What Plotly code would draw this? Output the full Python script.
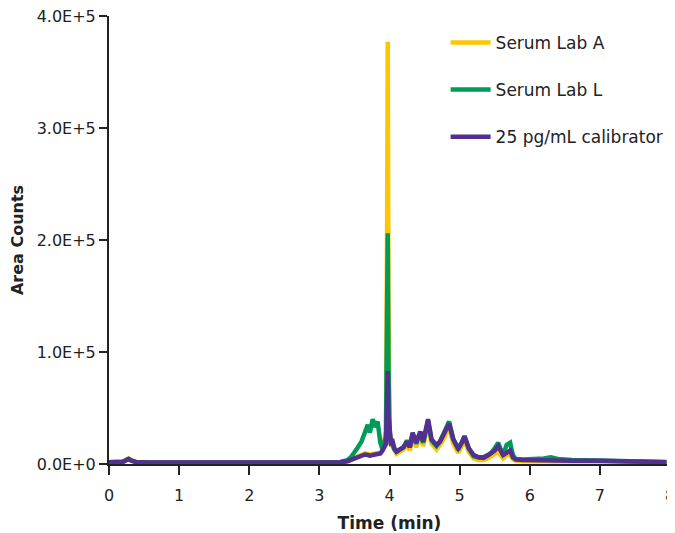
import plotly.graph_objects as go

# Retention time (min)
time_min = [0, 0.1, 0.2, 0.25, 0.28, 0.32, 0.4, 0.6, 1.0, 1.5, 2.0, 2.5, 3.0, 3.3, 3.4,
            3.45, 3.5, 3.55, 3.6, 3.65, 3.69, 3.72, 3.76, 3.79, 3.83, 3.87, 3.90, 3.95,
            3.965, 3.975, 3.985, 4.0, 4.02, 4.045, 4.07, 4.10, 4.15, 4.20, 4.25, 4.29,
            4.33, 4.38, 4.41, 4.44, 4.48, 4.52, 4.55, 4.60, 4.67, 4.72, 4.77, 4.81,
            4.85, 4.91, 4.98, 5.03, 5.07, 5.13, 5.20, 5.27, 5.34, 5.40, 5.45, 5.50,
            5.55, 5.58, 5.62, 5.67, 5.72, 5.76, 5.80, 5.9, 6.0, 6.2, 6.3, 6.4, 6.6,
            7.0, 7.5, 7.95]

# Area counts (thousands)
serum_lab_a_k = [1.5, 1.5, 2.0, 4.0, 5.0, 3.5, 1.5, 1.3, 1.2, 1.2, 1.1, 1.2, 1.3, 1.5, 2.5,
                 3.5, 5.0, 7.0, 8.5, 9.5, 9.0, 8.5, 9.0, 9.5, 10.0, 10.0, 12.0, 30.0,
                 200, 377, 150, 30, 18, 16, 12, 9, 11, 13, 17, 12,
                 24, 15, 20, 25, 16, 27, 35, 18, 13, 17, 22, 28,
                 33, 18, 10, 16, 21, 11, 5, 3.5, 3.5, 5, 7, 9,
                 11, 8, 5, 8, 8, 4, 3, 2.5, 2.5, 2.5, 3, 2.5, 2.5,
                 2.2, 2.0, 1.5]
serum_lab_l_k = [1.5, 1.6, 2.0, 3.5, 4.5, 3.0, 1.5, 1.4, 1.3, 1.2, 1.2, 1.3, 1.4, 1.8, 3.5,
                 6.0, 10.0, 15.0, 20.0, 30.0, 35.0, 28.0, 40.0, 33.0, 38.0, 19.0, 13.0, 25.0,
                 120, 206, 90, 30, 19, 17, 13, 11, 13, 15, 21, 15,
                 27, 18, 24, 27, 19, 33, 38, 21, 16, 20, 27, 33,
                 38, 22, 13, 19, 24, 14, 7, 6, 6, 8, 10, 14,
                 19, 14, 8, 17, 19, 8, 4.5, 4, 4, 5, 6, 4.5, 3.5,
                 3.0, 2.5, 1.8]
calibrator_k = [1.5, 1.5, 2.0, 3.5, 4.5, 3.0, 1.5, 1.3, 1.2, 1.2, 1.1, 1.2, 1.3, 1.5, 2.5,
                3.5, 5.0, 6.5, 7.5, 8.5, 8.0, 7.5, 8.0, 8.5, 9.0, 9.5, 12.0, 18.0,
                55, 83, 45, 25, 19, 20, 14, 11, 13, 15, 20, 15,
                28, 19, 24, 29, 20, 32, 40, 22, 17, 20, 26, 31,
                36, 22, 14, 19, 25, 14, 8, 6, 5.5, 7.5, 10, 12,
                16, 12, 8, 10, 12, 6, 4, 3.5, 3.5, 3.5, 4, 3.5, 3,
                2.8, 2.2, 1.6]

series_names = ["Serum Lab A", "Serum Lab L", "25 pg/mL calibrator"]
series_colors = ["#FFC600", "#009A5A", "#51308F"]
series_values = [serum_lab_a_k, serum_lab_l_k, calibrator_k]

x_ticks = [0, 1, 2, 3, 4, 5, 6, 7, 8]
y_ticks = [0, 100000, 200000, 300000, 400000]
y_tick_labels = ["0.0E+0", "1.0E+5", "2.0E+5", "3.0E+5", "4.0E+5"]

FONT = "DejaVu Sans, Verdana, sans-serif"

fig = go.Figure()
for name, color, vals in zip(series_names, series_colors, series_values):
    fig.add_trace(go.Scatter(
        x=time_min, y=[v * 1000 for v in vals], mode="lines", name=name,
        legendgroup=name, line=dict(color=color, width=4.5)))

# page body has an 8px margin, so the figure is sized to fit the 675x533 window
fig.update_layout(
    width=667, height=525,
    margin=dict(l=101, r=5, t=8, b=69),
    paper_bgcolor="white", plot_bgcolor="white",
    font=dict(family=FONT, size=16, color="#222222"),
    showlegend=True,
    legend=dict(x=0.6, xanchor="left", y=0.98, yanchor="top",
                tracegroupgap=22, traceorder="grouped", itemwidth=40,
                font=dict(family=FONT, size=17, color="#222222"),
                bgcolor="rgba(0,0,0,0)"),
    xaxis=dict(range=[0, 8.0001], tickvals=x_ticks, ticks="outside", ticklen=9,
               tickwidth=2, tickcolor="#222222", showline=True, linewidth=2,
               linecolor="#222222", showgrid=False, zeroline=False,
               automargin=False, ticklabelstandoff=7, ticklabeloverflow="allow",
               title=dict(text="<b>Time (min)</b>", standoff=13,
                          font=dict(family=FONT, size=17, color="#222222"))),
    yaxis=dict(range=[0, 400000], tickvals=y_ticks, ticktext=y_tick_labels,
               ticks="outside", ticklen=8, tickwidth=2, tickcolor="#222222",
               showline=True, linewidth=2, linecolor="#222222", showgrid=False,
               zeroline=False, automargin=False, ticklabeloverflow="allow",
               title=dict(text="<b>Area Counts</b>", standoff=10,
                          font=dict(family=FONT, size=16, color="#222222"))),
)

fig.write_html("out.html")
